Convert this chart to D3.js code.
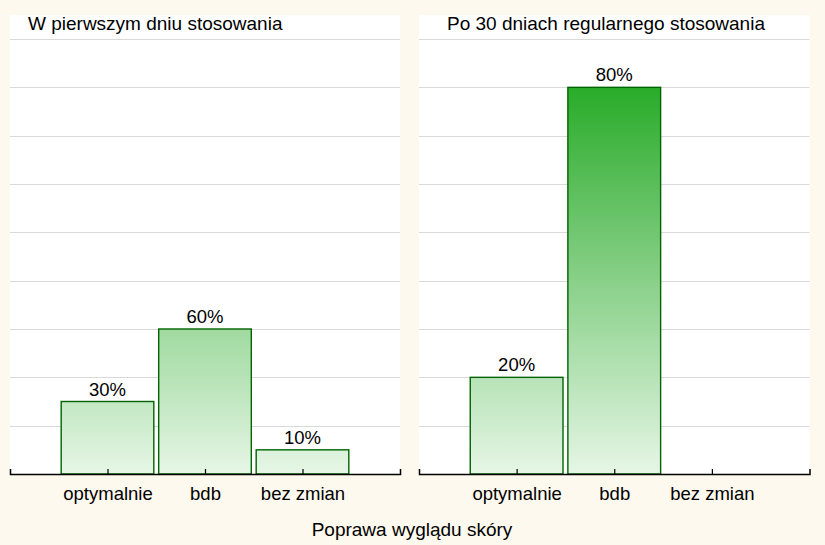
<!DOCTYPE html>
<html>
<head>
<meta charset="utf-8">
<script src="https://cdn.jsdelivr.net/npm/d3@7"></script>
<style>
  html, body { margin: 0; padding: 0; background: #fef9ee; }
  svg { display: block; font-family: "Liberation Sans", Arial, sans-serif; }
</style>
</head>
<body>
<svg id="chart" width="825" height="545"></svg>
<script>
const categories = ["optymalnie", "bdb", "bez zmian"];
const panelTitles = ["W pierwszym dniu stosowania", "Po 30 dniach regularnego stosowania"];
const day1Values = [30, 60, 10];
const day30Values = [20, 80, 0];
const xAxisTitle = "Poprawa wyglądu skóry";

const svg = d3.select("#chart");
const W = 825, H = 545;
svg.append("rect").attr("width", W).attr("height", H).attr("fill", "#fef9ee");

const defs = svg.append("defs");
const grad = defs.append("linearGradient")
  .attr("id", "barGrad")
  .attr("gradientUnits", "userSpaceOnUse")
  .attr("x1", 0).attr("x2", 0).attr("y1", 87).attr("y2", 474);
grad.append("stop").attr("offset", "0%").attr("stop-color", "#29ac29");
grad.append("stop").attr("offset", "45%").attr("stop-color", "#7fcc7f");
grad.append("stop").attr("offset", "100%").attr("stop-color", "#e6f6e6");

const panels = [
  { x0: 10, x1: 400, values: day1Values, max: 180, step: 20, title: panelTitles[0], titleX: 28 },
  { x0: 419, x1: 809.5, values: day30Values, max: 90, step: 10, title: panelTitles[1], titleX: 447 }
];
const panelTop = 15, plotTop = 39, baseY = 474;

panels.forEach(p => {
  const g = svg.append("g");
  g.append("rect").attr("x", p.x0).attr("y", panelTop)
    .attr("width", p.x1 - p.x0).attr("height", baseY - panelTop).attr("fill", "#ffffff");

  const y = d3.scaleLinear().domain([0, p.max]).range([baseY, plotTop]);
  const x = d3.scalePoint().domain(categories).range([p.x0, p.x1]).padding(1);
  const bw = x.step() * 0.95;

  // gridlines
  const gridVals = d3.range(p.step, p.max + 0.001, p.step);
  g.selectAll("line.grid").data(gridVals).enter().append("line")
    .attr("x1", p.x0).attr("x2", p.x1)
    .attr("y1", d => Math.round(y(d)) + 0.5).attr("y2", d => Math.round(y(d)) + 0.5)
    .attr("stroke", "#d9d9d9").attr("stroke-width", 1);

  // bars
  const data = categories.map((c, i) => ({ c, v: p.values[i] })).filter(d => d.v > 0);
  g.selectAll("rect.bar").data(data).enter().append("rect")
    .attr("x", d => x(d.c) - bw / 2)
    .attr("y", d => y(d.v))
    .attr("width", bw)
    .attr("height", d => baseY - y(d.v))
    .attr("fill", "url(#barGrad)")
    .attr("stroke", "#006400").attr("stroke-width", 1.4);

  g.selectAll("text.lbl").data(data).enter().append("text")
    .attr("x", d => x(d.c)).attr("y", d => y(d.v) - 6)
    .attr("text-anchor", "middle").attr("font-size", "18.5px").attr("fill", "#000")
    .text(d => d.v + "%");

  // axis
  const ax = g.append("g").attr("transform", `translate(0,${baseY})`)
    .call(d3.axisBottom(x).tickSize(-5));
  ax.select(".domain").attr("stroke", "#000").attr("stroke-width", 1.5);
  ax.selectAll(".tick line").attr("stroke", "#000").attr("stroke-width", 1.2);
  ax.selectAll(".tick text").attr("y", 26).attr("dy", null)
    .attr("font-size", "18.5px").attr("fill", "#000")
    .attr("font-family", "Liberation Sans, Arial, sans-serif");

  g.append("text").attr("x", p.titleX).attr("y", 30)
    .attr("font-size", "19px").attr("fill", "#000").text(p.title);
});

svg.append("text").attr("x", 412).attr("y", 536)
  .attr("text-anchor", "middle").attr("font-size", "19px").attr("fill", "#000")
  .text(xAxisTitle);
</script>
</body>
</html>
